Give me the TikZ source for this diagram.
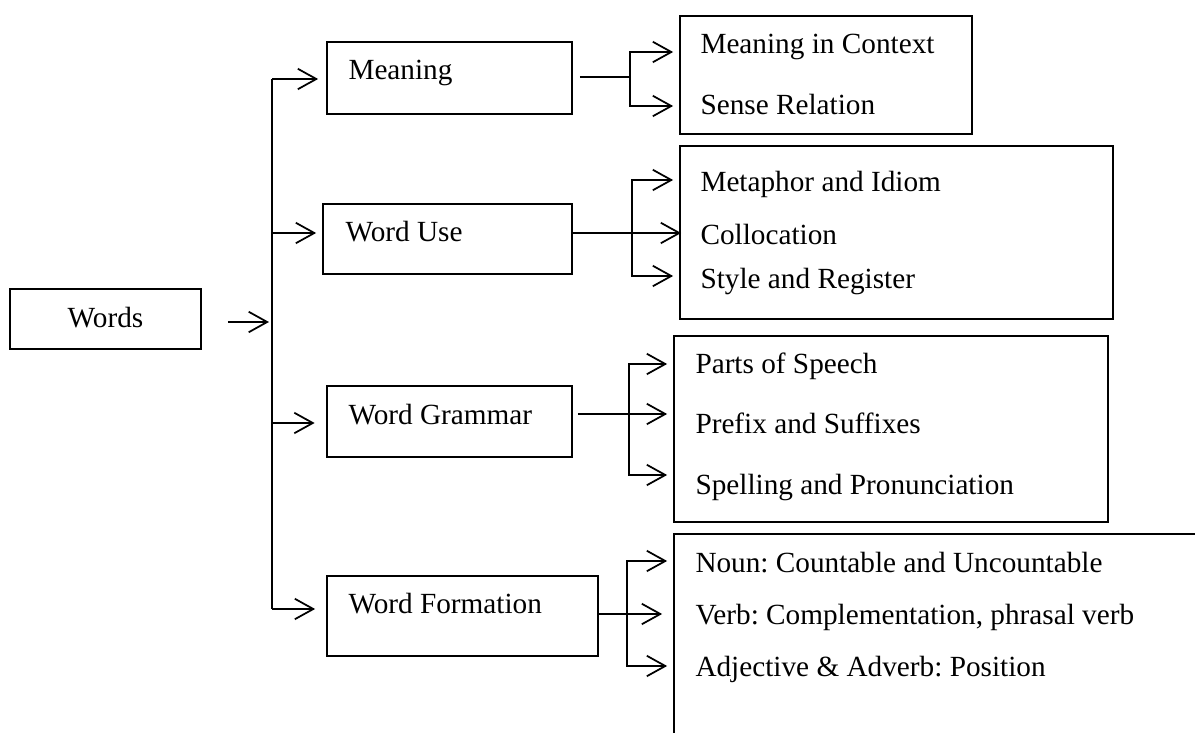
\documentclass[tikz,border=0pt]{standalone}
\usepackage{fontspec}
\setmainfont{Liberation Serif}
\usetikzlibrary{arrows.meta,fit}
\frenchspacing

\begin{document}
\begin{tikzpicture}[x=0.4pt,y=-0.4pt,
        box/.style={draw, line width=0.7pt, inner sep=0pt},
        txt/.style={inner sep=0pt, anchor=base west, font=\fontsize{11.7}{14}\selectfont},
        link/.style={line width=0.7pt},
        arr/.style={link, -{Straight Barb[length=7.4pt,width=8.2pt]}}]
        \clip (0,0) rectangle (1195,733);
        % main boxes
        \node[box, fit={(10,289) (201,349)}] (words) {};
        \node[txt, anchor=base] (wordstxt) at (105.5,327) {Words};
        \node[box, fit={(327,42) (572,114)}] (meaning) {};
        \node[txt] (meaningtxt) at (348,79) {Meaning};
        \node[box, fit={(323,204) (572,274)}] (use) {};
        \node[txt] (usetxt) at (345,241) {Word Use};
        \node[box, fit={(327,386) (572,457)}] (gram) {};
        \node[txt] (gramtxt) at (348,424) {Word Grammar};
        \node[box, fit={(327,576) (598,656)}] (form) {};
        \node[txt] (formtxt) at (348,613) {Word Formation};
        % list boxes
        \node[box, fit={(680,16) (972,134)}] (meanlist) {};
        \node[txt] (context) at (700,53) {Meaning in Context};
        \node[txt] (sense) at (700,114) {Sense Relation};
        \node[box, fit={(680,146) (1113,319)}] (uselist) {};
        \node[txt] (metaphor) at (700,191) {Metaphor and Idiom};
        \node[txt] (colloc) at (700,244) {Collocation};
        \node[txt] (style) at (700,288) {Style and Register};
        \node[box, fit={(674,336) (1108,522)}] (gramlist) {};
        \node[txt] (parts) at (695,373) {Parts of Speech};
        \node[txt] (prefix) at (695,433) {Prefix and Suffixes};
        \node[txt] (spelling) at (695,494) {Spelling and Pronunciation};
        \node[box, fit={(674,534) (1300,800)}] (formlist) {};
        \node[txt] (noun) at (695,572) {Noun: Countable and Uncountable};
        \node[txt] (verb) at (695,624) {Verb: Complementation, phrasal verb};
        \node[txt] (adj) at (695,676) {Adjective \& Adverb: Position};
        % trunk
        \coordinate (trunktop) at (272,79);
        \coordinate (trunkuse) at (272,233);
        \coordinate (trunkmid) at (272,322);
        \coordinate (trunkgram) at (272,423);
        \coordinate (trunkbot) at (272,609);
        \draw[link] (trunktop) -- (trunkbot);
        \draw[arr, shorten <=10.4pt, shorten >=1.2pt] (words.east |- trunkmid) -- (trunkmid);
        \draw[arr, shorten >=3.2pt] (trunktop) -- (trunktop -| meaning.west);
        \draw[arr, shorten >=2.4pt] (trunkuse) -- (trunkuse -| use.west);
        \draw[arr, shorten >=4.6pt] (trunkgram) -- (trunkgram -| gram.west);
        \draw[arr, shorten >=4.4pt] (trunkbot) -- (trunkbot -| form.west);
        % forks
        \coordinate (meanfork) at (630,77);
        \draw[link, shorten <=2.8pt] (meaning.east |- meanfork) -- (meanfork);
        \draw[arr, shorten >=2.4pt] (meanfork) |- (meanlist.west |- 0,52);
        \draw[arr, shorten >=2.4pt] (meanfork) |- (meanlist.west |- 0,106);
        \coordinate (usefork) at (632,233);
        \draw[link] (use.east |- usefork) -- (usefork);
        \draw[arr, shorten >=2.4pt] (usefork) |- (uselist.west |- 0,180);
        \draw[arr, shorten >=-0.8pt] (usefork) -- (uselist.west |- usefork);
        \draw[arr, shorten >=2.4pt] (usefork) |- (uselist.west |- 0,276);
        \coordinate (gramfork) at (629,414);
        \draw[link, shorten <=2pt] (gram.east |- gramfork) -- (gramfork);
        \draw[arr, shorten >=2.4pt] (gramfork) |- (gramlist.west |- 0,364);
        \draw[arr, shorten >=2.4pt] (gramfork) -- (gramlist.west |- gramfork);
        \draw[arr, shorten >=2.4pt] (gramfork) |- (gramlist.west |- 0,475);
        \coordinate (formfork) at (627,614);
        \draw[link] (form.east |- formfork) -- (formfork);
        \draw[arr, shorten >=2.4pt] (formfork) |- (formlist.west |- 0,561);
        \draw[arr, shorten >=4.4pt] (formfork) -- (formlist.west |- formfork);
        \draw[arr, shorten >=2.4pt] (formfork) |- (formlist.west |- 0,666);
\end{tikzpicture}
\end{document}
